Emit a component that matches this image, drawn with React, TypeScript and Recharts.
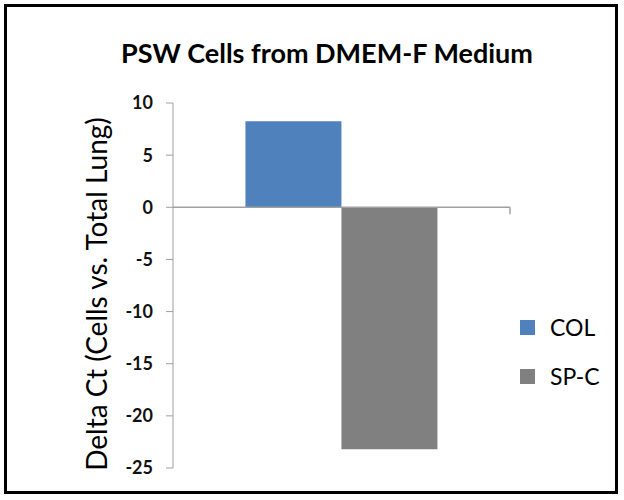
import React from "react";
import { BarChart, Bar, XAxis, YAxis, ReferenceLine } from "recharts";

const categories = ["PSW Cells"];
const seriesNames = ["COL", "SP-C"];
const colValues = [8.25];
const spcValues = [-23.2];
const yTicks = [-25, -20, -15, -10, -5, 0, 5, 10];
const COLORS = ["#4F81BD", "#808080"];

const data = categories.map((c, i) => ({
  name: c,
  COL: colValues[i],
  "SP-C": spcValues[i],
}));

const FONT = "Lato, 'Open Sans', sans-serif";

const ZeroLine = (props: any) => {
  const { x1, x2, y1, y2 } = props;
  return (
    <g>
      <line x1={x1} y1={y1} x2={x2} y2={y2} stroke="#a0a0a0" strokeWidth={1.5} />
      <line x1={x2} y1={y2} x2={x2} y2={y2 + 7} stroke="#a0a0a0" strokeWidth={1.5} />
    </g>
  );
};

const YLabel = () => (
  <text
    x={107}
    y={294}
    transform="rotate(-90 107 294)"
    textAnchor="middle"
    fontSize={28}
    fill="#000"
    fontFamily={FONT}
  >
    Delta Ct (Cells vs. Total Lung)
  </text>
);

const App = () => {
  return (
    <div style={{ position: "absolute", left: 0, top: 0, width: 624, height: 500, fontFamily: FONT, overflow: "hidden" }}>
      <div
        style={{
          position: "absolute",
          left: 4,
          top: 4,
          width: 608,
          height: 484,
          border: "3px solid #000",
        }}
      />
      <div
        style={{
          position: "absolute",
          left: 30,
          width: 594,
          top: 36,
          textAlign: "center",
          fontWeight: "bold",
          fontSize: 27,
          lineHeight: "34px",
          color: "#000",
        }}
      >
        PSW Cells from DMEM-F Medium
      </div>
      <div style={{ position: "absolute", left: 0, top: 0 }}>
        <BarChart
          width={624}
          height={500}
          data={data}
          margin={{ top: 103, right: 114, bottom: 32, left: 0 }}
          barCategoryGap="21.5%"
          barGap={0}
        >
          <XAxis dataKey="name" hide />
          <YAxis
            width={173}
            domain={[-25, 10]}
            ticks={yTicks}
            interval={0}
            tickSize={7}
            tickMargin={13}
            stroke="#a0a0a0"
            tick={{ fill: "#111", fontSize: 18, fontWeight: "bold", fontFamily: FONT }}
            label={<YLabel />}
          />
          <ReferenceLine y={0} shape={<ZeroLine />} />
          <Bar dataKey="COL" fill={COLORS[0]} isAnimationActive={false} />
          <Bar dataKey="SP-C" fill={COLORS[1]} isAnimationActive={false} />
        </BarChart>
      </div>
      {seriesNames.map((s, i) => (
        <div
          key={s}
          style={{
            position: "absolute",
            left: 520,
            top: 313 + i * 49,
            display: "flex",
            alignItems: "center",
            fontSize: 23,
            color: "#000",
          }}
        >
          <span style={{ display: "inline-block", width: 15, height: 15, background: COLORS[i], marginRight: 15 }} />
          {s}
        </div>
      ))}
    </div>
  );
};

export default App;
